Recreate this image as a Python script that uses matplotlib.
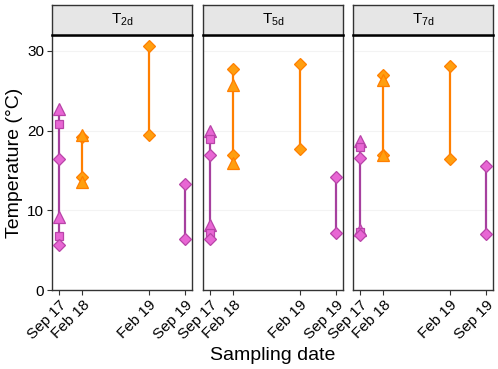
import matplotlib
matplotlib.use("Agg")
import matplotlib.pyplot as plt
import matplotlib.dates as mdates
import numpy as np
import datetime as dt

plt.rcParams['font.family'] = ['Liberation Sans', 'DejaVu Sans']
plt.rcParams['mathtext.default'] = 'regular'

# Sampling dates and labels
sample_dates = ["2017-09-20", "2018-02-03", "2019-02-19", "2019-09-20"]
tick_labels = ["Sep 17", "Feb 18", "Feb 19", "Sep 19"]
date_season = ["Sep", "Feb", "Feb", "Sep"]

panels = ["T$_{2d}$", "T$_{5d}$", "T$_{7d}$"]

# Panel T2d
t2d_date = [0, 0, 0, 0, 0, 0, 1, 1, 1, 1, 2, 2, 3, 3]
t2d_shape = ['^', 's', 'D', '^', 's', 'D', 'D', '^', 'D', '^', 'D', 'D', 'D', 'D']
t2d_temp = [22.7, 20.8, 16.4, 9.2, 6.8, 5.6, 19.2, 19.4, 14.2, 13.5, 30.6, 19.4, 13.3, 6.4]

# Panel T5d
t5d_date = [0, 0, 0, 0, 0, 0, 1, 1, 1, 1, 2, 2, 3, 3]
t5d_shape = ['^', 's', 'D', '^', 's', 'D', 'D', '^', 'D', '^', 'D', 'D', 'D', 'D']
t5d_temp = [20.0, 18.9, 17.0, 8.1, 7.1, 6.4, 27.7, 25.7, 17.0, 16.0, 28.3, 17.7, 14.2, 7.1]

# Panel T7d
t7d_date = [0, 0, 0, 0, 0, 0, 1, 1, 1, 1, 2, 2, 3, 3]
t7d_shape = ['^', 's', 'D', '^', 's', 'D', 'D', '^', 'D', '^', 'D', 'D', 'D', 'D']
t7d_temp = [18.7, 17.9, 16.6, 7.5, 7.3, 6.9, 27.0, 26.3, 17.0, 16.9, 28.1, 16.4, 15.5, 7.0]

panel_data = [(t2d_date, t2d_shape, t2d_temp),
              (t5d_date, t5d_shape, t5d_temp),
              (t7d_date, t7d_shape, t7d_temp)]

line_col = {"Sep": "#A6409E", "Feb": "#FF7F00"}
fill_col = {"Sep": "#E866D4", "Feb": "#FF9F10"}
edge_col = {"Sep": "#B844A8", "Feb": "#FF7F00"}
msize = {'^': 8, 's': 6.2, 'D': 6.5}

W, H = 498, 369
fig = plt.figure(figsize=(W / 100, H / 100), dpi=100)

dnums = [mdates.date2num(dt.datetime.strptime(d, "%Y-%m-%d")) for d in sample_dates]
xmin = dnums[0] - 40
xmax = dnums[-1] + 38

lefts = [52, 203, 353]
pw = 140
ax_top, ax_bot = 35, 290
strip_top = 5

spine_col = "#333333"
for i, (dates, shapes, temps) in enumerate(panel_data):
    ax = fig.add_axes([lefts[i] / W, (H - ax_bot) / H, pw / W, (ax_bot - ax_top) / H])
    ax.set_xlim(xmin, xmax)
    ax.set_ylim(0, 32)
    for yv in [10, 20, 30]:
        ax.axhline(yv, color="#F3F3F3", lw=0.8, zorder=0)
    dates = np.array(dates)
    temps = np.array(temps)
    for di in range(len(sample_dates)):
        m = dates == di
        if m.sum() == 0:
            continue
        s = date_season[di]
        ax.plot([dnums[di], dnums[di]], [temps[m].min(), temps[m].max()],
                color=line_col[s], lw=1.6, zorder=2, solid_capstyle='butt')
    for d, sh, t in zip(dates, shapes, temps):
        s = date_season[d]
        ax.plot(dnums[d], t, marker=sh, ms=msize[sh], mfc=fill_col[s],
                mec=edge_col[s], mew=0.9, ls='none', zorder=3)
    ax.set_xticks(dnums)
    ax.set_xticklabels(tick_labels, rotation=45, ha='right', rotation_mode='anchor',
                       fontsize=11, color='black')
    ax.tick_params(axis='x', length=3.5, color=spine_col, pad=2)
    if i == 0:
        ax.set_yticks([0, 10, 20, 30])
        ax.tick_params(axis='y', length=3.5, color=spine_col, labelsize=11, pad=2)
        ax.set_ylabel("Temperature (°C)", fontsize=14, labelpad=3)
    else:
        ax.set_yticks([])
    for sp in ax.spines.values():
        sp.set_color(spine_col)
        sp.set_linewidth(1.0)
    # strip
    sax = fig.add_axes([lefts[i] / W, (H - ax_top) / H, pw / W, (ax_top - strip_top) / H])
    sax.set_facecolor("#E6E6E6")
    sax.set_xticks([])
    sax.set_yticks([])
    for sp in sax.spines.values():
        sp.set_color(spine_col)
        sp.set_linewidth(1.0)
    sax.spines['bottom'].set_color('black')
    sax.spines['bottom'].set_linewidth(1.8)
    sax.text(0.5, 0.5, panels[i], ha='center', va='center', fontsize=11,
             transform=sax.transAxes)

fig.text((52 + 493) / 2 / W, (H - 355) / H, "Sampling date", ha='center', va='center',
         fontsize=14)

fig.savefig("out.png", dpi=100)
